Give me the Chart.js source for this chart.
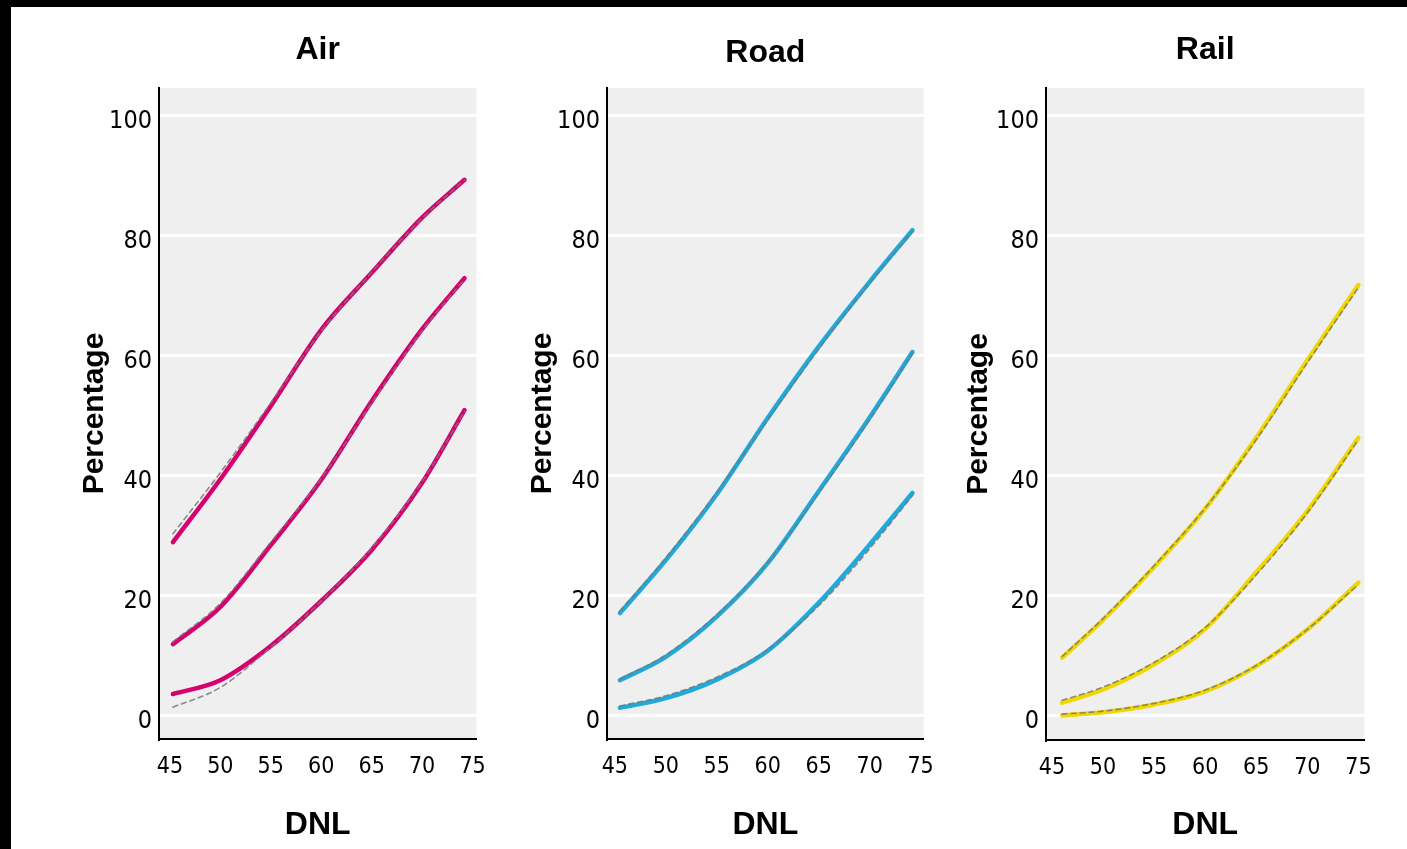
<!DOCTYPE html>
<html>
<head>
<meta charset="utf-8">
<script src="https://cdn.jsdelivr.net/npm/chart.js@4.4.1/dist/chart.umd.min.js"></script>
<style>
    html, body { margin: 0; padding: 0; background: #fff; }
    body { width: 1407px; height: 849px; position: relative; overflow: hidden; }
    canvas { position: absolute; top: 0; }
    .edge { position: absolute; background: #000; z-index: 10; }
</style>
</head>
<body>
<div class="edge" style="left:0;top:0;width:1407px;height:7px"></div>
<div class="edge" style="left:0;top:0;width:11px;height:849px"></div>
<canvas id="air"></canvas>
<canvas id="road"></canvas>
<canvas id="rail"></canvas>
<script>
// Data (DNL vs percentage, three curves per source, solid = observed, dashed = fit)
const yTicks = [0, 20, 40, 60, 80, 100];
const xTicks = [45, 50, 55, 60, 65, 70, 75];

const airX = [45.3, 50, 55, 60, 65, 70, 74.2];
const airHigh = [28.8, 39.3, 51.5, 64.2, 73.7, 82.9, 89.2];
const airMid = [11.8, 18.0, 28.3, 39.2, 52.3, 64.3, 72.8];
const airLow = [3.5, 5.8, 11.5, 19.0, 27.5, 38.7, 50.8];
const airHighFit = [30.2, 40.4, 52.0, 64.0, 73.8, 82.8, 89.2];
const airMidFit = [12.2, 18.6, 28.8, 39.4, 52.0, 64.1, 72.6];
const airLowFit = [1.3, 4.6, 11.3, 19.0, 27.8, 38.9, 50.6];

const roadX = [45.5, 50, 55, 60, 65, 70, 74.2];
const roadHigh = [17.0, 25.8, 36.8, 49.5, 61.4, 72.2, 80.8];
const roadMid = [5.8, 9.7, 16.4, 25.3, 37.3, 49.6, 60.5];
const roadLow = [1.2, 2.8, 5.9, 10.7, 18.7, 28.4, 37.0];
const roadHighFit = [17.3, 26.2, 37.1, 49.2, 61.0, 72.0, 80.6];
const roadMidFit = [6.0, 10.0, 16.7, 25.4, 37.0, 49.2, 60.3];
const roadLowFit = [1.5, 3.2, 6.3, 10.9, 18.2, 27.7, 36.6];

const railX = [46, 50, 55, 60, 65, 70, 75];
const railHigh = [9.7, 16.0, 24.8, 34.5, 46.3, 59.2, 71.7];
const railMid = [2.2, 4.4, 8.6, 14.5, 23.9, 34.1, 46.3];
const railLow = [0.1, 0.6, 1.9, 4.1, 8.3, 14.4, 22.2];
const railHighFit = [9.9, 16.2, 25.0, 34.6, 46.0, 58.8, 71.3];
const railMidFit = [2.6, 4.8, 8.9, 14.7, 23.5, 33.8, 46.0];
const railLowFit = [0.3, 0.8, 2.1, 4.3, 8.4, 14.4, 21.9];

const narrow = "'Liberation Sans Narrow', 'DejaVu Sans Condensed', 'Arial Narrow', sans-serif";
const boldFace = "'Liberation Sans', Arial, sans-serif";

// grey plot background
const plotBg = {
    id: 'plotBg',
    beforeDraw(chart) {
        const { ctx, chartArea: a } = chart;
        ctx.save();
        ctx.fillStyle = '#efefef';
        ctx.fillRect(a.left, a.top, a.right - a.left, a.bottom - a.top);
        ctx.restore();
    }
};

function points(xs, ys) {
    return xs.map((x, i) => ({ x: x, y: ys[i] }));
}

function makePanel(id, cfg) {
    const canvas = document.getElementById(id);
    canvas.width = cfg.width;
    canvas.height = 849;
    canvas.style.left = cfg.left + 'px';

    const solid = [cfg.high, cfg.mid, cfg.low].map(ys => ({
        data: points(cfg.xs, ys),
        borderColor: cfg.color,
        borderWidth: 4.5,
        order: 1
    }));
    const fits = [cfg.highFit, cfg.midFit, cfg.lowFit].map(ys => ({
        data: points(cfg.xs, ys),
        borderColor: 'rgba(120,120,120,0.85)',
        borderWidth: 1.6,
        borderDash: [5, 4],
        order: 0
    }));

    new Chart(canvas, {
        type: 'line',
        data: { datasets: solid.concat(fits) },
        options: {
            responsive: false,
            animation: false,
            devicePixelRatio: 1,
            layout: { padding: { left: 0, right: cfg.padRight, top: 0, bottom: 0 } },
            elements: {
                point: { radius: 0 },
                line: { cubicInterpolationMode: 'monotone', borderCapStyle: 'round' }
            },
            plugins: {
                legend: { display: false },
                tooltip: { enabled: false },
                title: {
                    display: true,
                    text: cfg.title,
                    fullSize: false,
                    color: '#000',
                    font: { family: boldFace, size: 32, weight: 'bold', lineHeight: 1.2 },
                    padding: { top: cfg.titleTop, bottom: 88 - 38.4 - cfg.titleTop }
                }
            },
            scales: {
                x: {
                    type: 'linear',
                    min: cfg.xMin,
                    max: cfg.xMax,
                    afterBuildTicks: s => { s.ticks = xTicks.map(v => ({ value: v })); },
                    afterFit: s => { s.height = 849 - cfg.bottom; },
                    grid: { drawOnChartArea: false, drawTicks: false },
                    border: { color: '#000', width: 2 },
                    ticks: {
                        color: '#000',
                        padding: 14,
                        maxRotation: 0,
                        font: { family: narrow, size: 23 }
                    },
                    title: {
                        display: true,
                        text: 'DNL',
                        color: '#000',
                        font: { family: boldFace, size: 32, weight: 'bold', lineHeight: 1.2 },
                        padding: { top: 0, bottom: 5 }
                    }
                },
                y: {
                    type: 'linear',
                    min: -4,
                    max: 104.5,
                    afterBuildTicks: s => { s.ticks = yTicks.map(v => ({ value: v })); },
                    afterFit: s => { s.width = 150; },
                    grid: { color: '#ffffff', lineWidth: 3, drawTicks: false },
                    border: { color: '#000', width: 2 },
                    ticks: {
                        color: '#000',
                        padding: 7,
                        labelOffset: 6,
                        font: { family: narrow, size: 25 }
                    },
                    title: {
                        display: true,
                        text: 'Percentage',
                        color: '#000',
                        font: { family: boldFace, size: 30, weight: 'bold', lineHeight: 1.2 },
                        padding: { top: cfg.yTitleOffset - 18, bottom: 0 }
                    }
                }
            }
        },
        plugins: [plotBg]
    });
}

makePanel('air', {
    title: 'Air', left: 9, width: 491, padRight: 20, bottom: 739, titleTop: 31, yTitleOffset: 86,
    xMin: 43.92, xMax: 75.39, color: '#d6006e',
    xs: airX, high: airHigh, mid: airMid, low: airLow,
    highFit: airHighFit, midFit: airMidFit, lowFit: airLowFit
});
makePanel('road', {
    title: 'Road', left: 457, width: 491, padRight: 20, bottom: 739, titleTop: 34, yTitleOffset: 86,
    xMin: 44.23, xMax: 75.3, color: '#1eaadc',
    xs: roadX, high: roadHigh, mid: roadMid, low: roadLow,
    highFit: roadHighFit, midFit: roadMidFit, lowFit: roadLowFit
});
makePanel('rail', {
    title: 'Rail', left: 896, width: 490, padRight: 20, bottom: 740, titleTop: 31, yTitleOffset: 83,
    xMin: 44.42, xMax: 75.58, color: '#f0d700',
    xs: railX, high: railHigh, mid: railMid, low: railLow,
    highFit: railHighFit, midFit: railMidFit, lowFit: railLowFit
});
</script>
</body>
</html>
